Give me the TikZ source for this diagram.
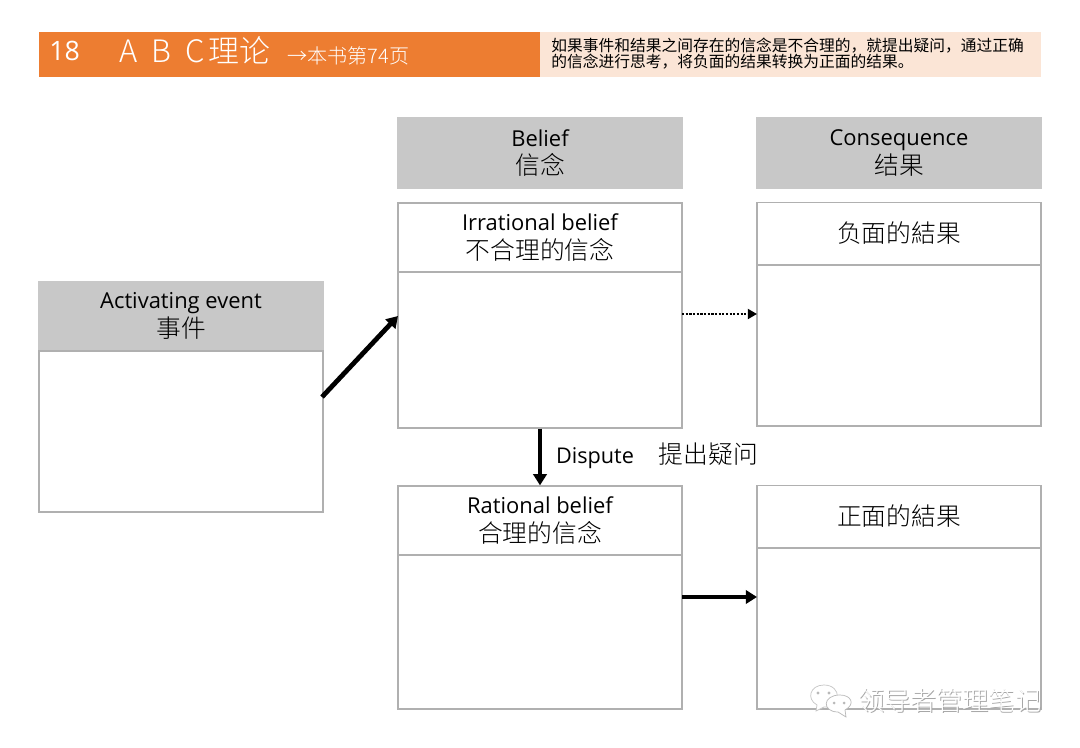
\documentclass[tikz,border=0pt]{standalone}
\usepackage{fontspec}
\setmainfont{Open Sans}
\newfontfamily\cjk{Noto Sans CJK SC}[UprightFont=* Light]
\newfontfamily\cjkreg{Noto Sans CJK SC}
\usetikzlibrary{arrows.meta,positioning,calc}
\definecolor{barorange}{HTML}{ED7D31}
\definecolor{barpeach}{HTML}{FBE5D6}
\definecolor{headgray}{HTML}{C8C8C8}
\definecolor{linegray}{HTML}{B0B0B0}
\newcommand{\zh}[1]{{\cjk\fontsize{17.6}{20.5}\selectfont #1}}

\begin{document}
\begin{tikzpicture}[
    x=0.025cm, y=-0.025cm,
    head/.style={rectangle, fill=headgray, minimum width=7.125cm, font=\fontsize{15.6}{20.5}\selectfont, align=center, inner sep=0pt},
    cell/.style={rectangle, draw=linegray, line width=0.9pt, fill=white, minimum width=7.1cm, font=\fontsize{15.6}{20.5}\selectfont, align=center, inner sep=0pt},
    arrow/.style={-{Triangle[length=8pt,width=9.5pt]}, line width=2.8pt, black}
]
\useasboundingbox (0,0) rectangle (1080,748);
% title bar
\node[rectangle, fill=barorange, minimum width=12.525cm, minimum height=1.125cm, inner sep=0pt] (bar) at (289.5,54.5) {};
\node[rectangle, fill=barpeach, minimum width=12.525cm, minimum height=1.125cm, inner sep=0pt] (note) at (790.5,54.5) {};
\node[anchor=west, text=white, font=\fontsize{19}{20}\selectfont, inner sep=0pt] (num) at (49,51) {18};
\node[anchor=west, text=white, font=\fontsize{22}{24}\cjk, inner sep=0pt] (title) at (119,50) {A\hspace{5pt} B\hspace{5pt} C\hspace{3pt}理论};
\node[anchor=west, text=white, font=\fontsize{14.3}{16}\cjk, inner sep=0pt] (ref) at (287,56) {→本书第74页};
\node[anchor=west, align=left, font=\fontsize{11.2}{11.9}\cjkreg, inner sep=0pt] (notetext) at (551,53.5) {如果事件和结果之间存在的信念是不合理的，就提出疑问，通过正确\\的信念进行思考，将负面的结果转换为正面的结果。};
% left column
\node[head, minimum height=1.75cm] (event) at (181,316) {Activating event\\\zh{事件}};
\node[cell, minimum height=4.025cm] (eventbody) at (181,431.5) {};
% belief column
\node[head, minimum height=1.775cm] (belief) at (540,153) {Belief\\\zh{信念}};
\node[cell, minimum height=1.725cm] (irr) at (540,237.5) {Irrational belief\\\zh{不合理的信念}};
\node[cell, minimum height=3.9cm] (irrbody) at (540,350) {};
\node[cell, minimum height=1.725cm] (rat) at (540,520.5) {Rational belief\\\zh{合理的信念}};
\node[cell, minimum height=3.85cm] (ratbody) at (540,632) {};
% consequence column
\node[head, minimum height=1.775cm] (cons) at (899,153) {Consequence\\\zh{结果}};
\node[cell, minimum height=1.55cm] (neg) at (899,233.5) {\zh{负面的結果}};
\node[cell, minimum height=4.025cm] (negbody) at (899,345.5) {};
\node[cell, minimum height=1.55cm] (pos) at (899,516.5) {\zh{正面的結果}};
\node[cell, minimum height=4.025cm] (posbody) at (899,628.5) {};
% connectors
\coordinate (a1) at (322,397);
\coordinate (a2) at (398,316);
\coordinate (b1) at (682,314);
\coordinate (b2) at (757,314);
\coordinate (c1) at (682,597);
\coordinate (c2) at (757,597);
\draw[arrow, line width=3.4pt] (a1) -- (a2);
\draw[-{Triangle[length=6.5pt,width=7pt]}, line width=1.6pt, densely dotted] (b1) -- (b2);
\draw[arrow] (irrbody.south) -- node[right, pos=0.47, inner sep=0pt, xshift=10pt, font=\fontsize{15.4}{17}\selectfont] (disp) {Dispute\hspace{1.15em}\zh{提出疑问}} (rat.north);
\draw[arrow] (c1) -- (c2);
% watermark
\draw[gray!45, fill=white, line width=0.5pt] (824,685) .. controls (810,685) and (806,699) .. (817,705) -- (816,711) -- (824,707) .. controls (842,708) and (842,685) .. (824,685) -- cycle;
\draw[gray!55, fill=white, line width=0.5pt] (840,695) .. controls (822,695) and (822,712) .. (838,712) -- (846,717) -- (845,710) .. controls (856,704) and (851,695) .. (840,695) -- cycle;
\fill[gray!55] (818,693) circle (1.6) (829,693) circle (1.6) (834,703) circle (1.5) (844,703) circle (1.5);
\node[anchor=west, text=gray!70, font=\fontsize{18.6}{20}\cjk, inner sep=0pt] (markshade) at (858.8,701.8) {领导者管理笔记};
\node[anchor=west, text=white, font=\fontsize{18.6}{20}\cjk, inner sep=0pt] (mark) at (858,701) {领导者管理笔记};
\end{tikzpicture}
\end{document}
